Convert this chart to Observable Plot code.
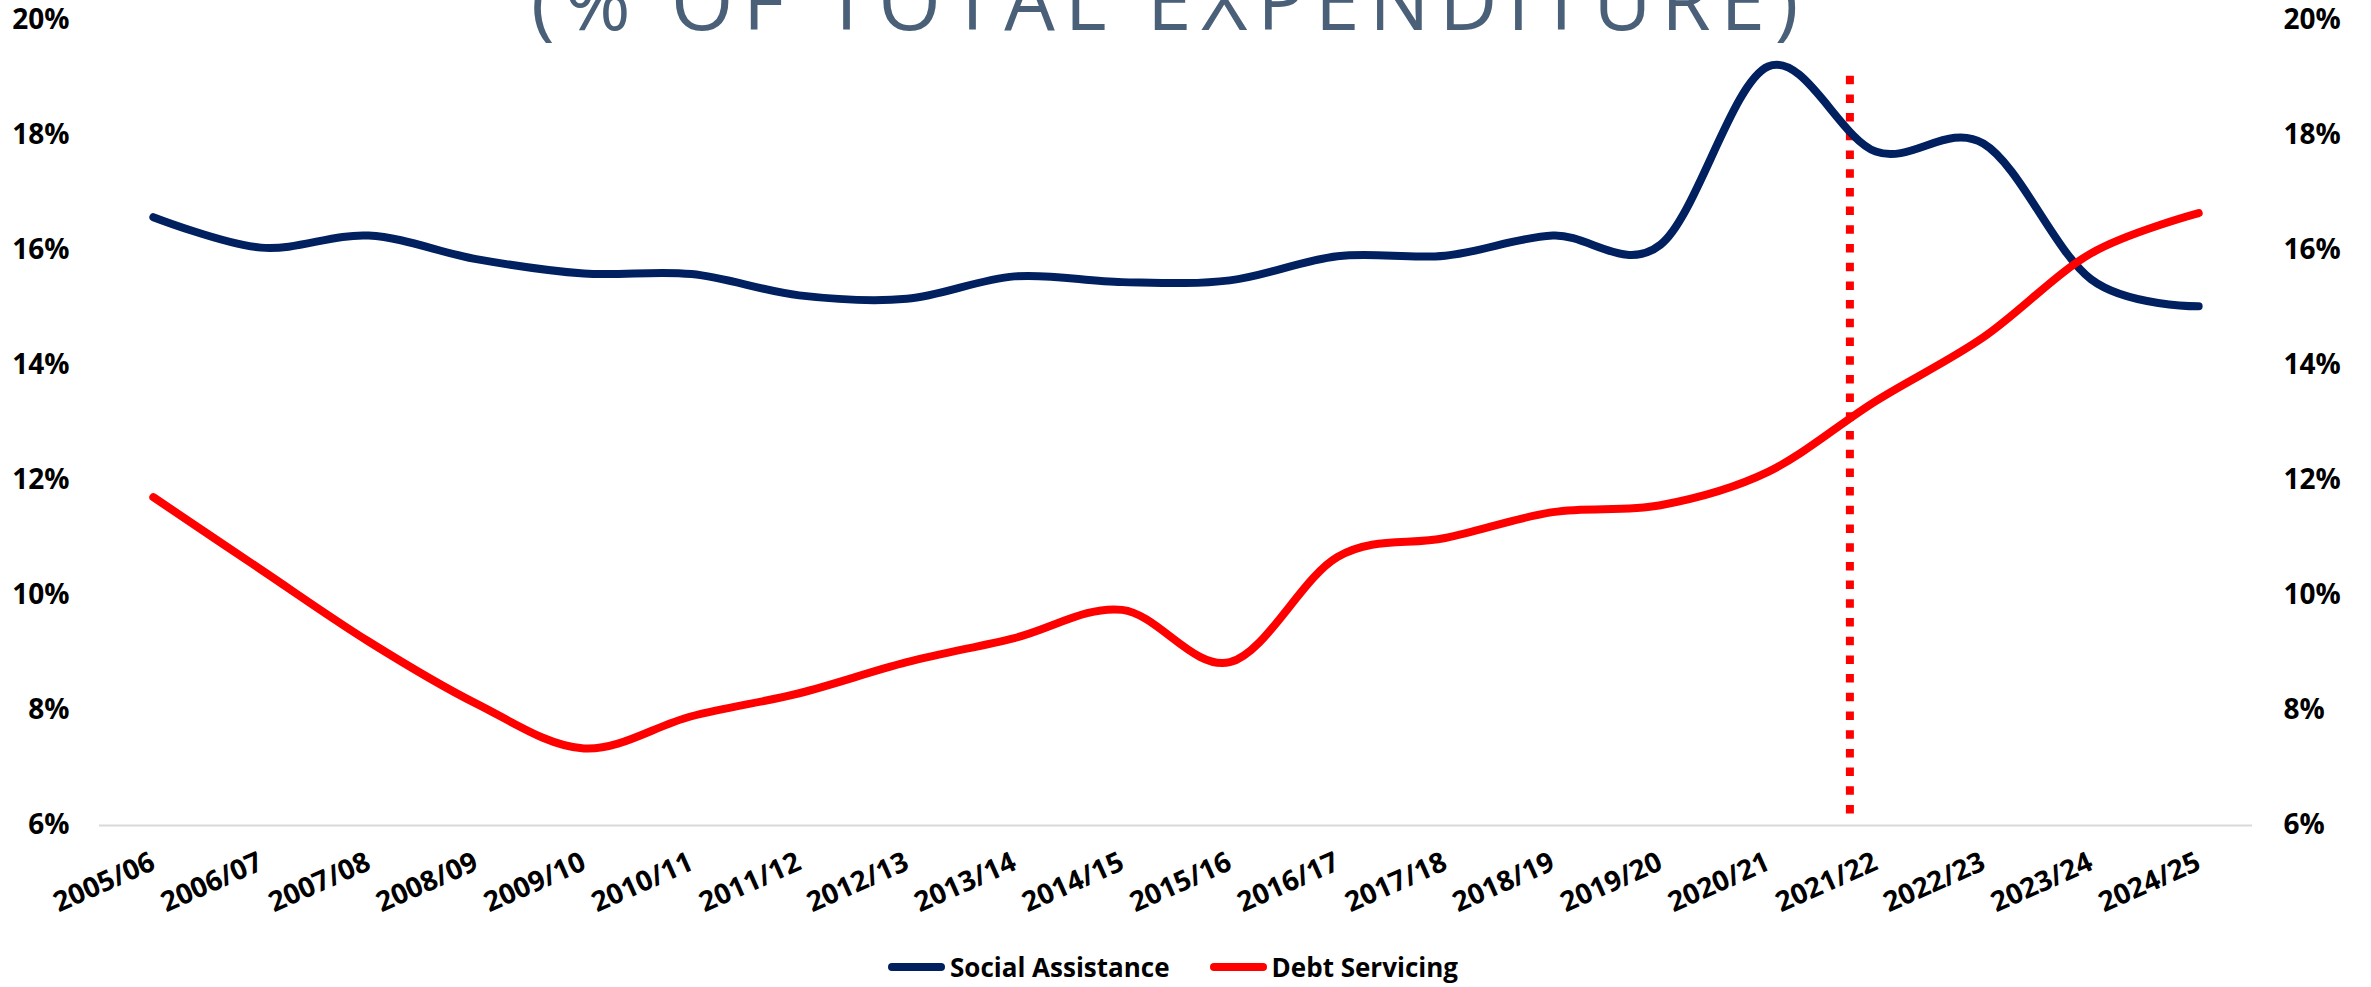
<!DOCTYPE html>
<html>
<head>
<meta charset="utf-8">
<script src="https://cdn.jsdelivr.net/npm/d3@7"></script>
<script src="https://cdn.jsdelivr.net/npm/@observablehq/plot@0.6"></script>
<style>
  html, body { margin: 0; padding: 0; background: #fff; }
  #wrap { position: relative; width: 2371px; height: 987px; overflow: hidden; font-family: "Open Sans", sans-serif; }
  #title { position: absolute; left: 531px; top: -41px; font-family: "Open Sans", sans-serif; font-weight: 400; font-size: 80px; line-height: 80px; letter-spacing: 9.8px; color: #4a6079; white-space: nowrap; }
  #legend { position: absolute; left: 888px; top: 952px; height: 30px; display: flex; align-items: center; font-weight: 700; font-size: 26px; line-height: 30px; color: #000; white-space: nowrap; }
  .sw { display: inline-block; width: 57px; height: 8px; border-radius: 4px; margin-right: 5px; }
  .item { display: flex; align-items: center; margin-right: 40px; }
</style>
</head>
<body>
<div id="wrap">
  <div id="chart"></div>
  <div id="title">(% OF TOTAL EXPENDITURE)</div>
  <div id="legend"></div>
</div>
<script>
// Categories (fiscal years)
const years = ["2005/06","2006/07","2007/08","2008/09","2009/10","2010/11","2011/12","2012/13","2013/14","2014/15",
               "2015/16","2016/17","2017/18","2018/19","2019/20","2020/21","2021/22","2022/23","2023/24","2024/25"];
// Series values (% of total expenditure)
const socialAssistance = [16.58,16.05,16.26,15.85,15.6,15.59,15.22,15.16,15.55,15.45,
                          15.48,15.9,15.91,16.26,16.1,19.2,17.72,17.86,15.5,15.03];
const debtServicing    = [11.71,10.45,9.2,8.12,7.34,7.9,8.3,8.84,9.26,9.75,
                          8.84,10.67,11.0,11.45,11.57,12.15,13.38,14.49,15.95,16.65];
// Y tick values
const yTicks = [6,8,10,12,14,16,18,20];
// Vertical dotted marker (position on category index axis, and its value range)
const markerX = [15.76];
const markerRange = [6.2, 19.2];

const seriesNames = ["Social Assistance", "Debt Servicing"];
const seriesColors = ["#002060", "#ff0000"];

const rows = [];
years.forEach((yr, i) => {
  rows.push({i, year: yr, series: seriesNames[0], value: socialAssistance[i]});
  rows.push({i, year: yr, series: seriesNames[1], value: debtServicing[i]});
});
const markerRows = markerX.map(x => ({x, y1: markerRange[0], y2: markerRange[1]}));

const tickFont = {fontSize: 28, fontWeight: 700, fill: "#000"};

const chart = Plot.plot({
  width: 2371,
  height: 940,
  marginTop: 20,
  marginBottom: 115,
  marginLeft: 99,
  marginRight: 119,
  style: {fontFamily: "'Open Sans', sans-serif", background: "#fff", overflow: "visible"},
  x: {type: "linear", domain: [-0.5, years.length - 0.5]},
  y: {domain: [6, 20]},
  color: {domain: seriesNames, range: seriesColors},
  marks: [
    Plot.ruleY([6], {stroke: "#d9d9d9", strokeWidth: 2}),
    Plot.axisY({anchor: "left", ticks: yTicks, tickFormat: d => d + "%", tickSize: 0, tickPadding: 30, label: null, ...tickFont}),
    Plot.axisY({anchor: "right", ticks: yTicks, tickFormat: d => d + "%", tickSize: 0, tickPadding: 31, label: null, ...tickFont}),
    Plot.axisX({ticks: d3.range(years.length), tickFormat: i => years[i], tickSize: 0, tickPadding: 35,
                tickRotate: -24, textAnchor: "end", label: null, ...tickFont}),
    Plot.ruleX(markerRows, {x: "x", y1: "y1", y2: "y2", stroke: "#ff0000", strokeWidth: 8, strokeDasharray: "8.5,10.2"}),
    Plot.line(rows, {x: "i", y: "value", z: "series", stroke: "series", strokeWidth: 8,
                     curve: "cardinal", strokeLinecap: "round", strokeLinejoin: "round"})
  ]
});
document.getElementById("chart").appendChild(chart);

const legend = document.getElementById("legend");
seriesNames.forEach((name, k) => {
  const item = document.createElement("div");
  item.className = "item";
  const sw = document.createElement("span");
  sw.className = "sw";
  sw.style.background = seriesColors[k];
  const label = document.createElement("span");
  label.textContent = name;
  item.appendChild(sw);
  item.appendChild(label);
  legend.appendChild(item);
});
</script>
</body>
</html>
